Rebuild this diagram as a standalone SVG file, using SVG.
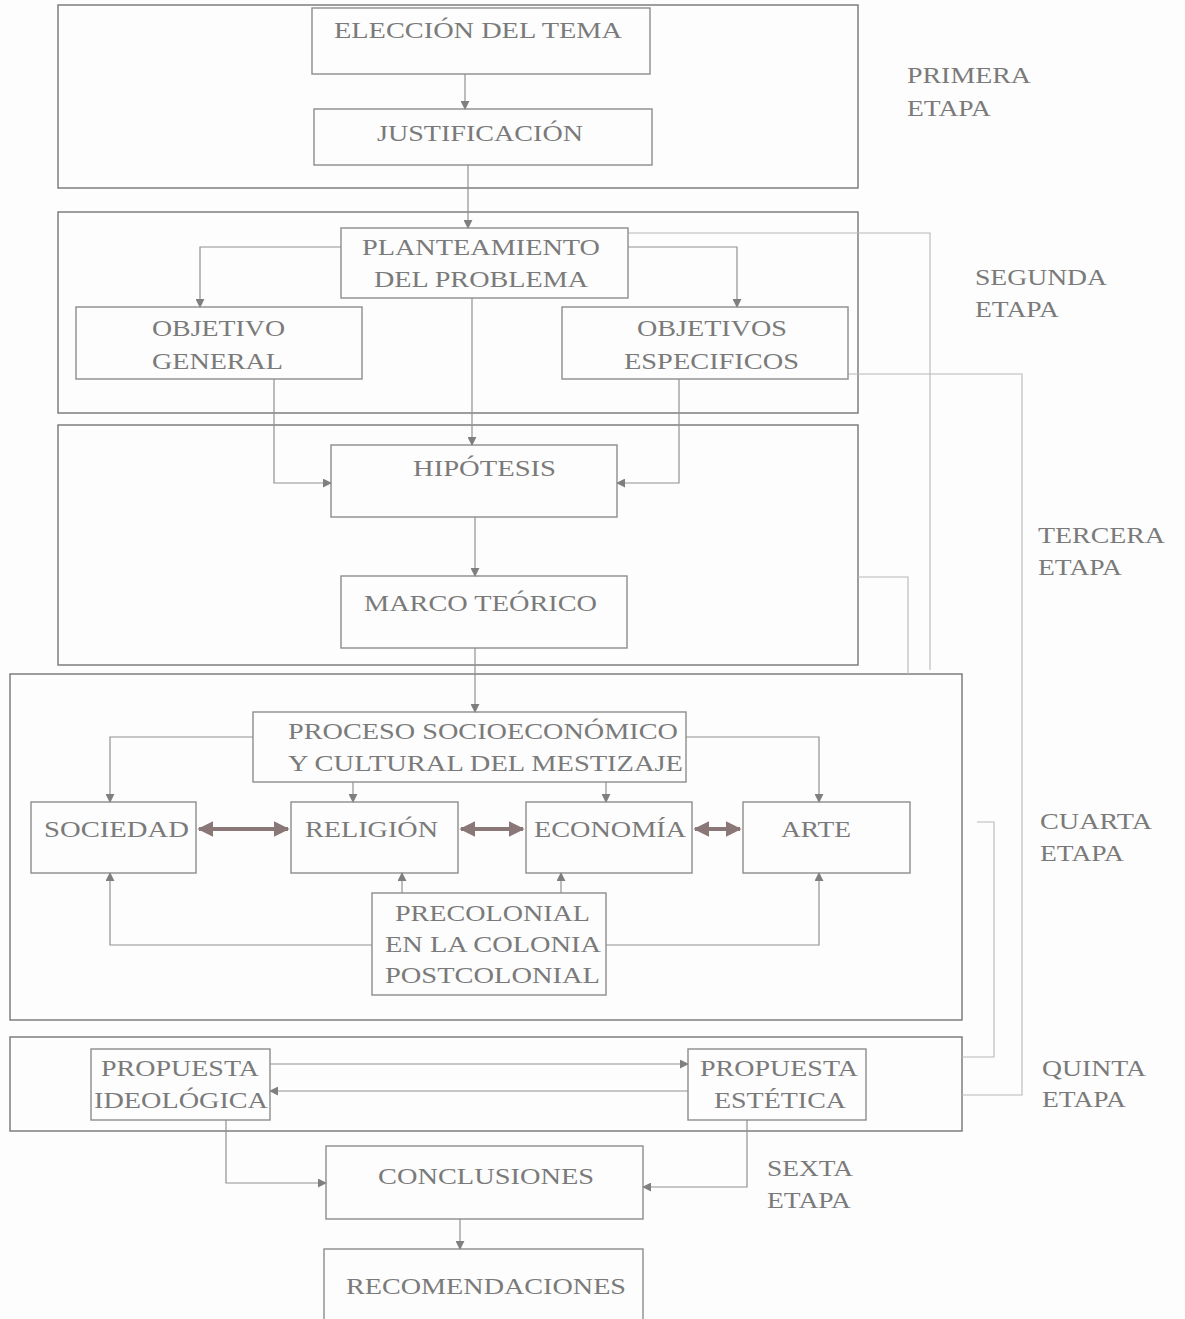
<svg xmlns="http://www.w3.org/2000/svg" width="1185" height="1319" viewBox="0 0 1185 1319">
<style>
.bg{fill:#fdfdfd}
.stage{fill:none;stroke:#7d7d7d;stroke-width:1.5}
.node{fill:none;stroke:#8c8c8c;stroke-width:1.4}
.t{font-family:"Liberation Serif","Times New Roman",serif;font-size:24px;fill:#7a7a7a}
.c{fill:none;stroke:#929292;stroke-width:1.2}
.f{fill:none;stroke:#b8b8b8;stroke-width:1.1}
.d{fill:none;stroke:#8a7777;stroke-width:4}
</style>
<defs>
<marker id="a" viewBox="0 0 10 10" refX="9" refY="5" markerWidth="9" markerHeight="9" markerUnits="userSpaceOnUse" orient="auto">
<path d="M0,0 L10,5 L0,10 z" fill="#7f7f7f"/>
</marker>
<marker id="da" viewBox="0 0 10 10" refX="9" refY="5" markerWidth="4" markerHeight="4" orient="auto-start-reverse">
<path d="M0,0 L10,5 L0,10 z" fill="#8a7777"/>
</marker>
</defs>
<rect class="bg" x="0" y="0" width="1185" height="1319"/>

<g id="stages">
<rect class="stage" x="58" y="5" width="800" height="183"/>
<rect class="stage" x="58" y="212" width="800" height="201"/>
<rect class="stage" x="58" y="425" width="800" height="240"/>
<rect class="stage" x="10" y="674" width="952" height="346"/>
<rect class="stage" x="10" y="1037" width="952" height="94"/>
</g>

<g id="stage-labels">
<text class="t" x="907" y="83" textLength="124" lengthAdjust="spacingAndGlyphs">PRIMERA</text>
<text class="t" x="907" y="116" textLength="84" lengthAdjust="spacingAndGlyphs">ETAPA</text>
<text class="t" x="975" y="285" textLength="132" lengthAdjust="spacingAndGlyphs">SEGUNDA</text>
<text class="t" x="975" y="317" textLength="84" lengthAdjust="spacingAndGlyphs">ETAPA</text>
<text class="t" x="1038" y="543" textLength="127" lengthAdjust="spacingAndGlyphs">TERCERA</text>
<text class="t" x="1038" y="575" textLength="84" lengthAdjust="spacingAndGlyphs">ETAPA</text>
<text class="t" x="1040" y="829" textLength="112" lengthAdjust="spacingAndGlyphs">CUARTA</text>
<text class="t" x="1040" y="861" textLength="84" lengthAdjust="spacingAndGlyphs">ETAPA</text>
<text class="t" x="1042" y="1076" textLength="104" lengthAdjust="spacingAndGlyphs">QUINTA</text>
<text class="t" x="1042" y="1107" textLength="84" lengthAdjust="spacingAndGlyphs">ETAPA</text>
<text class="t" x="767" y="1176" textLength="86" lengthAdjust="spacingAndGlyphs">SEXTA</text>
<text class="t" x="767" y="1208" textLength="84" lengthAdjust="spacingAndGlyphs">ETAPA</text>
</g>

<g id="connectors">
<path class="c" d="M465,74 V109" marker-end="url(#a)"/>
<path class="c" d="M468,165 V228" marker-end="url(#a)"/>
<path class="c" d="M341,247 H200 V307" marker-end="url(#a)"/>
<path class="c" d="M628,247 H737 V307" marker-end="url(#a)"/>
<path class="c" d="M472,298 V445" marker-end="url(#a)"/>
<path class="c" d="M274,379 V483 H331" marker-end="url(#a)"/>
<path class="c" d="M679,379 V483 H617" marker-end="url(#a)"/>
<path class="c" d="M475,517 V576" marker-end="url(#a)"/>
<path class="c" d="M475,648 V712" marker-end="url(#a)"/>
<path class="c" d="M253,737 H110 V802" marker-end="url(#a)"/>
<path class="c" d="M353,782 V802" marker-end="url(#a)"/>
<path class="c" d="M606,782 V802" marker-end="url(#a)"/>
<path class="c" d="M686,737 H819 V802" marker-end="url(#a)"/>
<path class="d" d="M199,829 H288" marker-start="url(#da)" marker-end="url(#da)"/>
<path class="d" d="M461,829 H523" marker-start="url(#da)" marker-end="url(#da)"/>
<path class="d" d="M695,829 H740" marker-start="url(#da)" marker-end="url(#da)"/>
<path class="c" d="M372,945 H110 V873" marker-end="url(#a)"/>
<path class="c" d="M402,893 V873" marker-end="url(#a)"/>
<path class="c" d="M561,893 V873" marker-end="url(#a)"/>
<path class="c" d="M606,945 H819 V873" marker-end="url(#a)"/>
<path class="c" d="M270,1064 H688" marker-end="url(#a)"/>
<path class="c" d="M688,1091 H270" marker-end="url(#a)"/>
<path class="c" d="M226,1120 V1183 H326" marker-end="url(#a)"/>
<path class="c" d="M747,1120 V1187 H643" marker-end="url(#a)"/>
<path class="c" d="M460,1219 V1249" marker-end="url(#a)"/>
<path class="f" d="M628,233 H930 V670"/>
<path class="f" d="M848,374 H1022 V1095 H962"/>
<path class="f" d="M858,577 H908 V674"/>
<path class="f" d="M977,822 H994 V1057 H962"/>
</g>

<g id="n-eleccion"><rect class="node" x="312" y="8" width="338" height="66"/><text class="t" x="334" y="38" textLength="288" lengthAdjust="spacingAndGlyphs">ELECCIÓN DEL TEMA</text></g>
<g id="n-justificacion"><rect class="node" x="314" y="109" width="338" height="56"/><text class="t" x="377" y="141" textLength="206" lengthAdjust="spacingAndGlyphs">JUSTIFICACIÓN</text></g>
<g id="n-planteamiento"><rect class="node" x="341" y="228" width="287" height="70"/><text class="t" x="362" y="255" textLength="238" lengthAdjust="spacingAndGlyphs">PLANTEAMIENTO</text><text class="t" x="374" y="287" textLength="214" lengthAdjust="spacingAndGlyphs">DEL PROBLEMA</text></g>
<g id="n-objgeneral"><rect class="node" x="76" y="307" width="286" height="72"/><text class="t" x="152" y="336" textLength="133" lengthAdjust="spacingAndGlyphs">OBJETIVO</text><text class="t" x="152" y="369" textLength="131" lengthAdjust="spacingAndGlyphs">GENERAL</text></g>
<g id="n-objesp"><rect class="node" x="562" y="307" width="286" height="72"/><text class="t" x="637" y="336" textLength="150" lengthAdjust="spacingAndGlyphs">OBJETIVOS</text><text class="t" x="624" y="369" textLength="175" lengthAdjust="spacingAndGlyphs">ESPECIFICOS</text></g>
<g id="n-hipotesis"><rect class="node" x="331" y="445" width="286" height="72"/><text class="t" x="413" y="476" textLength="143" lengthAdjust="spacingAndGlyphs">HIPÓTESIS</text></g>
<g id="n-marco"><rect class="node" x="341" y="576" width="286" height="72"/><text class="t" x="364" y="611" textLength="233" lengthAdjust="spacingAndGlyphs">MARCO TEÓRICO</text></g>
<g id="n-proceso"><rect class="node" x="253" y="712" width="433" height="70"/><text class="t" x="288" y="739" textLength="390" lengthAdjust="spacingAndGlyphs">PROCESO SOCIOECONÓMICO</text><text class="t" x="288" y="771" textLength="395" lengthAdjust="spacingAndGlyphs">Y CULTURAL DEL MESTIZAJE</text></g>
<g id="n-sociedad"><rect class="node" x="31" y="802" width="165" height="71"/><text class="t" x="44" y="837" textLength="145" lengthAdjust="spacingAndGlyphs">SOCIEDAD</text></g>
<g id="n-religion"><rect class="node" x="291" y="802" width="167" height="71"/><text class="t" x="305" y="837" textLength="133" lengthAdjust="spacingAndGlyphs">RELIGIÓN</text></g>
<g id="n-economia"><rect class="node" x="526" y="802" width="166" height="71"/><text class="t" x="534" y="837" textLength="152" lengthAdjust="spacingAndGlyphs">ECONOMÍA</text></g>
<g id="n-arte"><rect class="node" x="743" y="802" width="167" height="71"/><text class="t" x="781" y="837" textLength="70" lengthAdjust="spacingAndGlyphs">ARTE</text></g>
<g id="n-periodos"><rect class="node" x="372" y="893" width="234" height="102"/><text class="t" x="395" y="921" textLength="195" lengthAdjust="spacingAndGlyphs">PRECOLONIAL</text><text class="t" x="385" y="952" textLength="216" lengthAdjust="spacingAndGlyphs">EN LA COLONIA</text><text class="t" x="385" y="983" textLength="215" lengthAdjust="spacingAndGlyphs">POSTCOLONIAL</text></g>
<g id="n-ideologica"><rect class="node" x="91" y="1049" width="179" height="71"/><text class="t" x="101" y="1076" textLength="158" lengthAdjust="spacingAndGlyphs">PROPUESTA</text><text class="t" x="94" y="1108" textLength="174" lengthAdjust="spacingAndGlyphs">IDEOLÓGICA</text></g>
<g id="n-estetica"><rect class="node" x="688" y="1049" width="178" height="71"/><text class="t" x="700" y="1076" textLength="158" lengthAdjust="spacingAndGlyphs">PROPUESTA</text><text class="t" x="714" y="1108" textLength="132" lengthAdjust="spacingAndGlyphs">ESTÉTICA</text></g>
<g id="n-conclusiones"><rect class="node" x="326" y="1146" width="317" height="73"/><text class="t" x="378" y="1184" textLength="216" lengthAdjust="spacingAndGlyphs">CONCLUSIONES</text></g>
<g id="n-recomendaciones"><rect class="node" x="324" y="1249" width="319" height="72"/><text class="t" x="346" y="1294" textLength="280" lengthAdjust="spacingAndGlyphs">RECOMENDACIONES</text></g>
</svg>
